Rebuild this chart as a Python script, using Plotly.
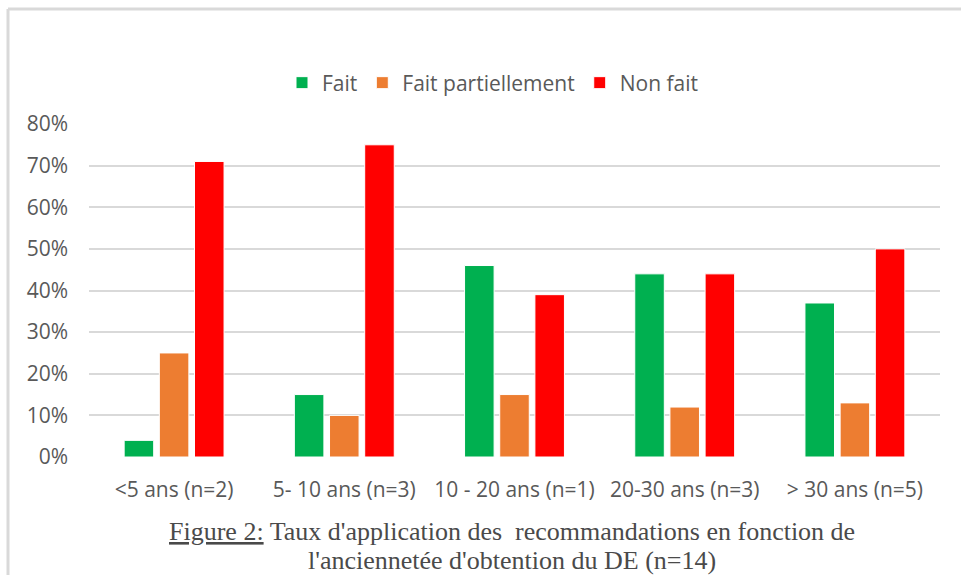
import plotly.graph_objects as go

categories = ["<5 ans (n=2)", "5- 10 ans (n=3)", "10 - 20 ans (n=1)", "20-30 ans (n=3)", "> 30 ans (n=5)"]
fait = [0.04, 0.15, 0.46, 0.44, 0.37]
fait_partiellement = [0.25, 0.10, 0.15, 0.12, 0.13]
non_fait = [0.71, 0.75, 0.39, 0.44, 0.50]
y_ticks = [0, 0.1, 0.2, 0.3, 0.4, 0.5, 0.6, 0.7, 0.8]
caption_lines = [
    "<u>Figure 2:</u> Taux d'application des\u00a0 recommandations en fonction de",
    "l'anciennetée d'obtention du DE (n=14)",
]

series = [
    ("Fait", fait, "#00B050"),
    ("Fait partiellement", fait_partiellement, "#ED7D31"),
    ("Non fait", non_fait, "#FF0000"),
]

W, H = 961, 575
L, R, T, B = 89, 21, 124, 118
pw, ph = W - L - R, H - T - B


def px_x(x):
    return (x - L) / pw


def px_y(y):
    return (H - B - y) / ph


fig = go.Figure()
for name, vals, color in series:
    fig.add_trace(go.Bar(
        x=categories, y=vals, name=name,
        marker=dict(color=color, line=dict(color="white", width=1)),
    ))

font = "Open Sans, sans-serif"
caption_font = dict(family="Liberation Serif, Times New Roman, serif", size=26, color="#4a4a4a")

fig.update_layout(
    width=W, height=H,
    margin=dict(l=L, r=R, t=T, b=B),
    paper_bgcolor="white", plot_bgcolor="white",
    barmode="group", bargap=0.38, bargroupgap=0.16,
    showlegend=True,
    legend=dict(
        orientation="h", x=px_x(493), y=px_y(83),
        xanchor="center", yanchor="middle",
        font=dict(family=font, size=21, color="#595959"),
        itemwidth=30, traceorder="normal",
    ),
    xaxis=dict(
        showgrid=False, showline=False, zeroline=False, ticks="",
        tickfont=dict(family=font, size=21, color="#595959"),
        ticklabelstandoff=18,
        fixedrange=True,
    ),
    yaxis=dict(
        range=[0, 0.8], tickvals=y_ticks, tickformat=".0%",
        showgrid=True, gridcolor="#D9D9D9", gridwidth=2,
        zeroline=False, showline=False, ticks="",
        tickfont=dict(family=font, size=21, color="#595959"),
        ticklabelstandoff=20,
    ),
    shapes=[
        dict(type="line", xref="paper", yref="paper",
             x0=px_x(8), x1=px_x(8), y0=px_y(9), y1=px_y(580),
             line=dict(color="#D9D9D9", width=3)),
        dict(type="line", xref="paper", yref="paper",
             x0=px_x(8), x1=px_x(965), y0=px_y(9), y1=px_y(9),
             line=dict(color="#D9D9D9", width=3)),
    ],
    annotations=[
        dict(
            xref="paper", yref="paper", x=px_x(512), y=px_y(yc),
            xanchor="center", yanchor="middle", showarrow=False,
            text=line, font=caption_font,
        )
        for line, yc in zip(caption_lines, [531, 560])
    ],
)

fig.write_html("out.html")
